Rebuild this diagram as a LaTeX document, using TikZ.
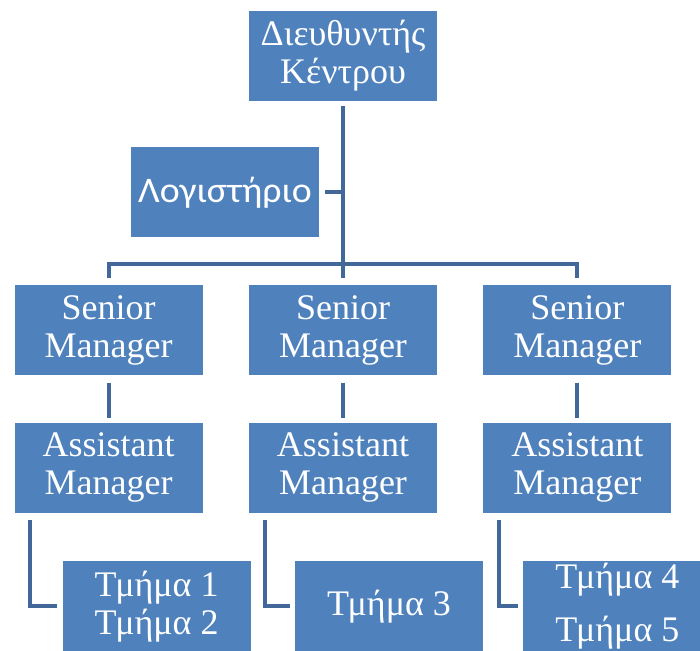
\documentclass[tikz,border=0pt]{standalone}
\usepackage{fontspec}
\setmainfont{Liberation Serif}
\newfontfamily\calibri{Carlito}[FakeStretch=1.05]
\usepackage{tikz}
\usetikzlibrary{positioning}
\definecolor{boxblue}{RGB}{79,129,189}
\definecolor{lineblue}{RGB}{65,104,153}
\tikzstyle{box} = [rectangle, minimum width=188pt, minimum height=90pt, inner sep=0pt, align=center, text=white, fill=boxblue, font=\fontsize{36}{38}\selectfont]
\tikzstyle{link} = [line width=4pt, draw=lineblue]

\begin{document}
\begin{tikzpicture}[node distance=46pt]
\useasboundingbox (0,0) rectangle (700pt,-650pt);
\node (dir) [box] at (343pt,-56pt) {Διευθυντής\\Κέντρου};
\node (log) [box, below=46pt of dir, xshift=-118pt, font=\calibri\fontsize{36}{38}\selectfont] {Λογιστήριο};
\node (sm2) [box, below=184pt of dir] {Senior\\Manager};
\node (sm1) [box, left=of sm2] {Senior\\Manager};
\node (sm3) [box, right=of sm2] {Senior\\Manager};
\node (am1) [box, below=47pt of sm1] {Assistant\\Manager};
\node (am2) [box, below=47pt of sm2] {Assistant\\Manager};
\node (am3) [box, below=47pt of sm3] {Assistant\\Manager};
\node (t1) [box, below=48pt of am1, xshift=48pt] {Τμήμα 1\\Τμήμα 2};
\node (t2) [box, below=48pt of am2, xshift=46pt] {Τμήμα 3};
\node (t3) [box, below=48pt of am3, xshift=40pt] {Τμήμα 4\\[15pt]Τμήμα 5};
\coordinate (bus) at (dir |- 0,-264pt);

\draw [link, shorten <=5pt] (dir) -- (bus);
\draw [link, shorten >=7pt] (bus) -- (sm2);
\draw [link, shorten >=7pt] (bus) -| (sm1);
\draw [link, shorten >=7pt] (bus) -| (sm3);
\draw [link, shorten <=6pt] (log) -- (log -| bus);
\foreach \i in {1,2,3}
  \draw [link, shorten <=7pt, shorten >=5pt] (sm\i) -- (am\i);
% elbows to the departments
\draw [link, shorten >=5pt] ([xshift=16pt, yshift=-7pt]am1.south west) |- (t1.west);
\draw [link, shorten >=5pt] ([xshift=16pt, yshift=-7pt]am2.south west) |- (t2.west);
\draw [link, shorten >=5pt] ([xshift=16pt, yshift=-7pt]am3.south west) |- (t3.west);
\end{tikzpicture}
\end{document}
